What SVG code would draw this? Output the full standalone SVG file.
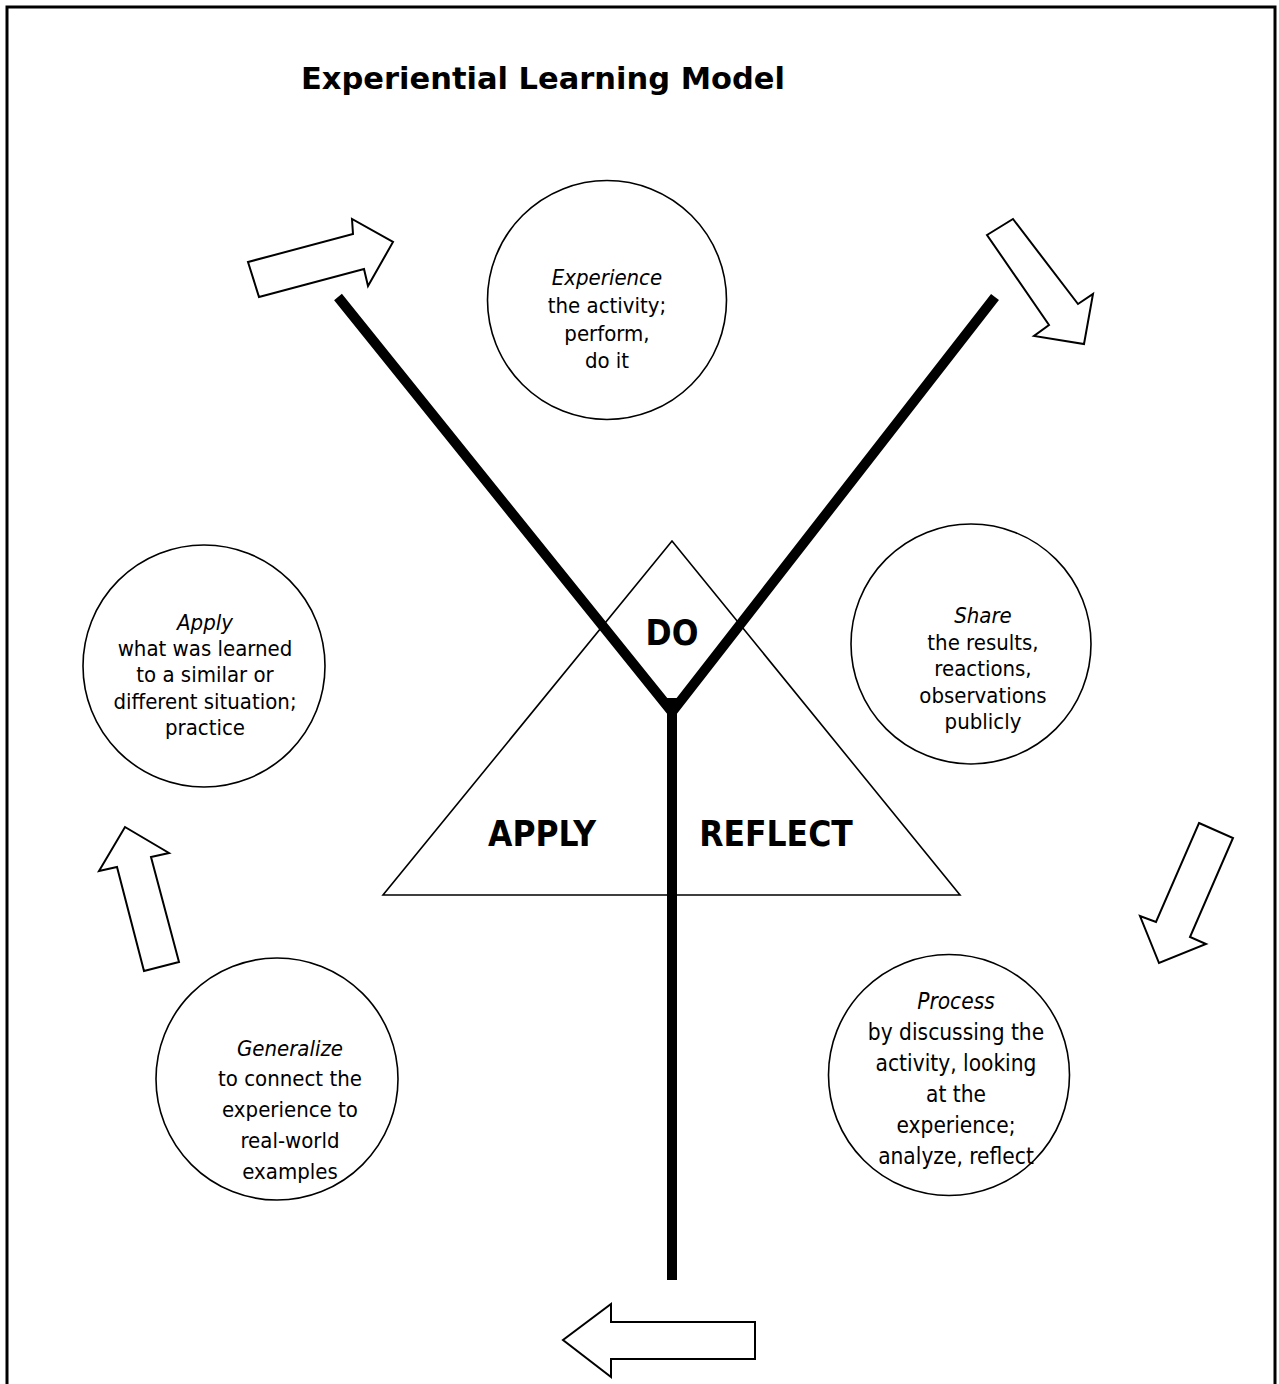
<svg xmlns="http://www.w3.org/2000/svg" width="1279" height="1384" viewBox="0 0 1279 1384">
<style>
text{font-family:"DejaVu Sans","Liberation Sans",sans-serif;font-stretch:condensed;fill:#000;text-anchor:middle}
.b{font-size:22px}
.h{font-size:22px;font-style:italic}
.p{font-size:22.5px}
.ph{font-size:22.5px;font-style:italic}
.big{font-size:35px;font-weight:bold}
.title{font-size:30.5px;font-weight:bold;font-stretch:normal;text-anchor:start}
.c{fill:#fff;stroke:#000;stroke-width:1.6}
.arr{fill:#fff;stroke:#000;stroke-width:2;stroke-linejoin:miter}
.y{fill:none;stroke:#000;stroke-width:10;stroke-linejoin:miter;stroke-linecap:butt}
</style>
<rect x="0" y="0" width="1279" height="1384" fill="#fff"/>
<path d="M7,1390 V7 H1275 V1390" fill="none" stroke="#000" stroke-width="3"/>
<text class="title" x="301" y="89">Experiential Learning Model</text>

<g id="triangle">
<polygon points="672,541 960,895 383,895" fill="none" stroke="#000" stroke-width="1.6"/>
<text class="big" x="672" y="645">DO</text>
<text class="big" x="542" y="846">APPLY</text>
<text class="big" x="776" y="846">REFLECT</text>
</g>

<g id="connectors">
<path class="y" d="M338,297 L672,712 L995,297"/>
<path class="y" d="M672,698 V1280"/>
<polygon class="arr" points="248,262 353,234 352,219 393,242 368,286 364,269 259,297"/>
<polygon class="arr" points="987,235 1013,219 1078,304 1093,294 1084,344 1034,336 1049,325"/>
<polygon class="arr" points="1199,823 1233,838 1190,937 1206,944 1159,963 1140,916 1156,922"/>
<polygon class="arr" points="755,1322 611,1322 611,1304 563,1340 611,1377 611,1359 755,1359"/>
<polygon class="arr" points="144,971 179,962 151,857 169,853 125,827 99,871 117,867"/>
</g>

<g id="experience">
<circle class="c" cx="607" cy="300" r="119.5"/>
<text class="h" x="607" y="285">Experience</text>
<text class="b" x="607" y="313">the activity;</text>
<text class="b" x="607" y="341">perform,</text>
<text class="b" x="607" y="368">do it</text>
</g>

<g id="share">
<circle class="c" cx="971" cy="644" r="120"/>
<text class="h" x="983" y="623">Share</text>
<text class="b" x="983" y="650">the results,</text>
<text class="b" x="983" y="676">reactions,</text>
<text class="b" x="983" y="703">observations</text>
<text class="b" x="983" y="729">publicly</text>
</g>

<g id="process">
<circle class="c" cx="949" cy="1075" r="120.5"/>
<text class="ph" x="956" y="1009">Process</text>
<text class="p" x="956" y="1040">by discussing the</text>
<text class="p" x="956" y="1071">activity, looking</text>
<text class="p" x="956" y="1102">at the</text>
<text class="p" x="956" y="1133">experience;</text>
<text class="p" x="956" y="1164">analyze, reflect</text>
</g>

<g id="generalize">
<circle class="c" cx="277" cy="1079" r="121"/>
<text class="h" x="290" y="1056">Generalize</text>
<text class="b" x="290" y="1086">to connect the</text>
<text class="b" x="290" y="1117">experience to</text>
<text class="b" x="290" y="1148">real-world</text>
<text class="b" x="290" y="1179">examples</text>
</g>

<g id="apply">
<circle class="c" cx="204" cy="666" r="121"/>
<text class="h" x="205" y="630">Apply</text>
<text class="b" x="205" y="656">what was learned</text>
<text class="b" x="205" y="682">to a similar or</text>
<text class="b" x="205" y="709">different situation;</text>
<text class="b" x="205" y="735">practice</text>
</g>
</svg>
